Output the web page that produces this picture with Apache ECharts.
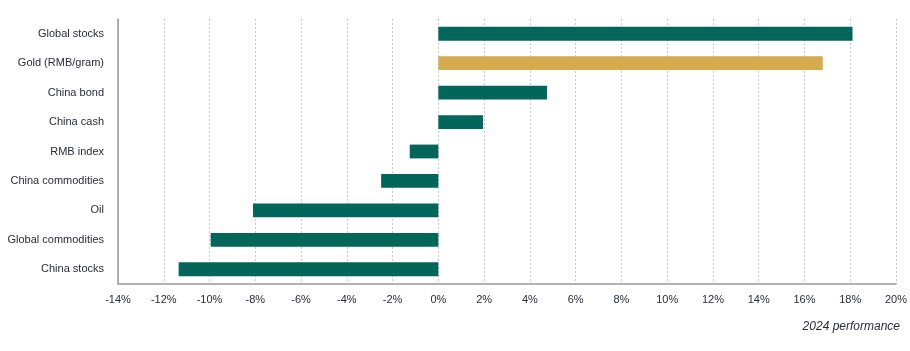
<!DOCTYPE html>
<html><head><meta charset="utf-8">
<script src="https://cdn.jsdelivr.net/npm/echarts@6/dist/echarts.min.js"></script>
<style>html,body{margin:0;padding:0;background:#fff}#c{width:910px;height:351px}</style>
</head><body><div id="c"></div>
<script>
const categories = ["Global stocks","Gold (RMB/gram)","China bond","China cash","RMB index","China commodities","Oil","Global commodities","China stocks"];
const values = [18.1, 16.8, 4.75, 1.95, -1.25, -2.5, -8.1, -9.95, -11.35];
const barColors = ["#02665A","#D6AA4E","#02665A","#02665A","#02665A","#02665A","#02665A","#02665A","#02665A"];
const xTicks = {min: -14, max: 20, interval: 2};
const footnote = "2024 performance";

const chart = echarts.init(document.getElementById('c'), null, {renderer: 'canvas'});
chart.setOption({
  animation: false,
  grid: {left: 118, right: 12, top: 19, bottom: 67, containLabel: false},
  xAxis: {
    type: 'value', min: xTicks.min, max: xTicks.max, interval: xTicks.interval,
    axisLine: {show: true, lineStyle: {color: '#999', width: 1.5}},
    axisTick: {show: false},
    axisLabel: {formatter: v => v + '%', color: '#2b2b3a', fontSize: 11, fontFamily: 'Liberation Sans, Arial', margin: 10},
    splitLine: {show: true, lineStyle: {color: '#c8c8c8', type: [2, 2], width: 1}}
  },
  yAxis: {
    type: 'category', data: categories, inverse: true,
    axisLine: {show: true, onZero: false, lineStyle: {color: '#999', width: 1.5}},
    axisTick: {show: false},
    axisLabel: {color: '#2b2b3a', fontSize: 11, fontFamily: 'Liberation Sans, Arial', margin: 14},
    splitLine: {show: false}
  },
  graphic: [{
    type: 'text', right: 10, top: 321,
    style: {text: footnote, fill: '#2b2b3a', font: 'italic 12px Liberation Sans, Arial', textAlign: 'right'}
  }],
  series: [{
    type: 'bar', barWidth: '47%',
    data: values.map((v, i) => ({value: v, itemStyle: {color: barColors[i]}}))
  }]
});
</script></body></html>
